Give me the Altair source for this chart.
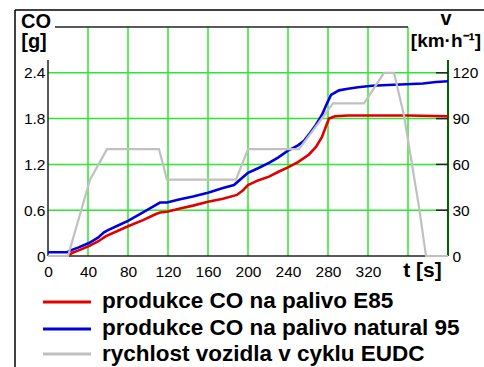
import altair as alt
import pandas as pd

# ---- data ----
t_e85 = [20, 24, 30, 41, 50, 58, 70, 80, 95, 108, 112, 119, 131, 145, 160, 175, 189, 195, 200, 210,
         221, 230, 240, 250, 261, 268, 274, 278, 281, 287, 300, 330, 360, 400]
co_e85 = [0.0, 0.04, 0.07, 0.13, 0.19, 0.26, 0.33, 0.39, 0.47, 0.55, 0.57, 0.58, 0.62, 0.66, 0.71, 0.75, 0.80, 0.86, 0.93, 0.99,
          1.04, 1.10, 1.16, 1.23, 1.33, 1.43, 1.56, 1.70, 1.80, 1.83, 1.84, 1.84, 1.84, 1.83]

t_n95 = [0, 19, 24, 30, 41, 50, 56, 60, 70, 80, 95, 108, 112, 119, 131, 145, 160, 175, 186, 192,
         200, 210, 221, 230, 240, 250, 256, 262, 268, 274, 279, 283, 291, 300, 310, 324, 340, 358, 375, 388, 400]
co_n95 = [0.05, 0.05, 0.08, 0.11, 0.17, 0.24, 0.31, 0.34, 0.40, 0.46, 0.57, 0.67, 0.70, 0.70, 0.74, 0.78, 0.83, 0.89, 0.93, 1.00,
          1.09, 1.15, 1.22, 1.29, 1.38, 1.45, 1.51, 1.61, 1.72, 1.85, 2.00, 2.11, 2.17, 2.19, 2.21, 2.23, 2.24, 2.25, 2.26, 2.28, 2.29]

t_speed = [0, 20, 42, 59, 111, 119, 188, 200, 251, 285, 316, 336, 346, 356, 364, 371, 378, 400]
v_speed = [0, 0, 50, 70, 70, 50, 50, 70, 70, 100, 100, 120, 120, 92, 60, 32, 0, 0]

x_ticks = [0, 40, 80, 120, 160, 200, 240, 280, 320]
grid_t = [40, 80, 120, 160, 200, 240, 280, 320, 360]
co_ticks = [0, 0.6, 1.2, 1.8, 2.4]
grid_co = [0.6, 1.2, 1.8, 2.4]
v_ticks = [0, 30, 60, 90, 120]
v_tickmarks = [30, 60, 90, 120]

legend_labels = ["produkce CO na palivo E85",
                 "produkce CO na palivo natural 95",
                 "rychlost vozidla v cyklu EUDC"]
colors = ["#e00000", "#0000dd", "#c0c0c0"]

FONT = "Liberation Sans"
GREEN = "#2ee62e"
W, H = 400, 229

xs = alt.Scale(domain=[0, 400], nice=False, zero=False)
ys = alt.Scale(domain=[0, 3], nice=False, zero=False)
vs = alt.Scale(domain=[0, 150], nice=False, zero=False)

df_e85 = pd.DataFrame({"t": t_e85, "co": co_e85})
df_n95 = pd.DataFrame({"t": t_n95, "co": co_n95})
df_v = pd.DataFrame({"t": t_speed, "v": v_speed})

x_axis = alt.Axis(values=x_ticks, grid=False, domain=False, ticks=False, title=None,
                  labelFont=FONT, labelFontSize=15.5, labelColor="black", labelPadding=15,
                  labelBaseline="middle", labelFlush=False, labelOverlap=False)
y_axis = alt.Axis(values=co_ticks, grid=False, domain=False, ticks=False, title=None,
                  labelExpr="datum.value == 0 ? '0' : format(datum.value, '.1f')",
                  labelFont=FONT, labelFontSize=15.5, labelColor="black", labelPadding=3,
                  labelFlush=False, labelOverlap=False)
v_axis = alt.Axis(values=v_ticks, orient="right", grid=False, domain=False, ticks=False, title=None,
                  labelFont=FONT, labelFontSize=15.5, labelColor="black", labelPadding=4,
                  labelFlush=False, labelOverlap=False)

X = lambda: alt.X("t:Q", scale=xs, axis=x_axis)
Y = lambda: alt.Y("co:Q", scale=ys, axis=y_axis)
V = lambda: alt.Y("v:Q", scale=vs, axis=v_axis)

vgrid = alt.Chart(pd.DataFrame({"t": grid_t})).mark_rule(color=GREEN, strokeWidth=1.5).encode(x=X())
hgrid = alt.Chart(pd.DataFrame({"co": grid_co})).mark_rule(color=GREEN, strokeWidth=1.5).encode(y=Y())

one = pd.DataFrame({"k": [0]})
left_axis = alt.Chart(one).mark_rule(color="#222222", strokeWidth=1.5).encode(
    x=alt.value(0), y=alt.value(33), y2=alt.value(H))
bottom_axis = alt.Chart(one).mark_rule(color="#222222", strokeWidth=1.5).encode(
    x=alt.value(0), x2=alt.value(W), y=alt.value(H))
top_line = alt.Chart(one).mark_rule(color="#222222", strokeWidth=1.5).encode(
    x=alt.value(7), x2=alt.value(360), y=alt.value(0))
right_axis = alt.Chart(one).mark_rule(color="#006400", strokeWidth=2).encode(
    x=alt.value(W), y=alt.value(33), y2=alt.value(H))

line_e85 = alt.Chart(df_e85).mark_line(color=colors[0], strokeWidth=2.6).encode(x=X(), y=Y())
line_n95 = alt.Chart(df_n95).mark_line(color=colors[1], strokeWidth=2.6).encode(x=X(), y=Y())

line_v = alt.Chart(df_v).mark_line(color=colors[2], strokeWidth=2.2).encode(x=X(), y=V())
vticks = alt.Chart(pd.DataFrame({"v": v_tickmarks})).mark_rule(color="#222222", strokeWidth=1.5).encode(
    y=V(), x=alt.value(W - 12), x2=alt.value(W))


def label(txt, x, y, size=21, weight="bold", align="center", baseline="middle"):
    return alt.Chart(pd.DataFrame({"s": [txt]})).mark_text(
        font=FONT, fontSize=size, fontWeight=weight, align=align, baseline=baseline,
        color="black").encode(text="s:N", x=alt.value(x), y=alt.value(y))


texts = [
    label("CO", -12, -5, size=20),
    label("[g]", -14, 15, size=20),
    label("v", 398, -8, size=20),
    label("[km·h⁻¹]", 398, 14, size=19),
    label("t [s]", 374.5, 244, size=21),
]

frame_left = alt.Chart(one).mark_rule(color="black", strokeWidth=1.5).encode(
    x=alt.value(-33), y=alt.value(-17), y2=alt.value(345))
frame_top = alt.Chart(one).mark_rule(color="black", strokeWidth=1.5).encode(
    x=alt.value(-33), x2=alt.value(440), y=alt.value(-17))

leg_y_line = [275, 302, 327]
leg_y_text = [281, 307.5, 334]
legend = []
for i, lab in enumerate(legend_labels):
    legend.append(alt.Chart(one).mark_rule(color=colors[i], strokeWidth=3).encode(
        x=alt.value(-5), x2=alt.value(43), y=alt.value(leg_y_line[i])))
    legend.append(label(lab, 54, leg_y_text[i], size=22.5, align="left", baseline="alphabetic"))

co_layer = alt.layer(vgrid, hgrid, left_axis, bottom_axis, top_line, right_axis,
                     line_e85, line_n95, *texts, frame_left, frame_top, *legend)
v_layer = alt.layer(line_v, vticks)

chart = alt.layer(co_layer, v_layer).resolve_scale(y="independent").properties(
    width=W, height=H,
    padding={"left": 48, "top": 27, "right": 36, "bottom": 111},
    autosize=alt.AutoSizeParams(type="none"),
    background="white",
).configure_view(stroke=None)

chart.save("out.html", embed_options={"renderer": "svg", "actions": False})
